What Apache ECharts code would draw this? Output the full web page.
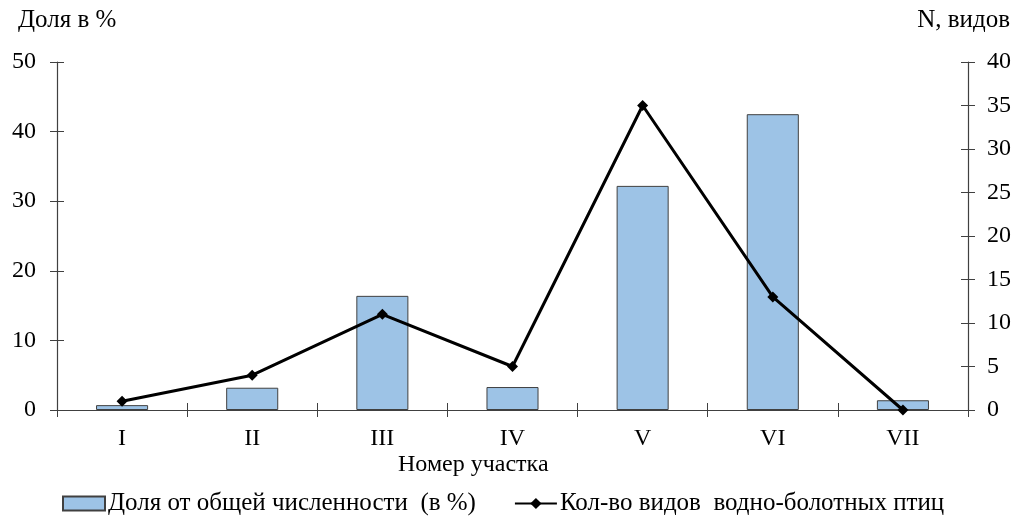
<!DOCTYPE html>
<html><head><meta charset="utf-8">
<script src="https://cdn.jsdelivr.net/npm/echarts@6/dist/echarts.min.js"></script>
<style>html,body{margin:0;padding:0;background:#fff}#c{width:1018px;height:518px}</style>
</head><body><div id="c"></div>
<script>
var categories = ['I','II','III','IV','V','VI','VII'];
var shareValues = [0.7, 3.2, 16.4, 3.3, 32.2, 42.5, 1.4];
var speciesValues = [1, 4, 11, 5, 35, 13, 0];
var leftTicks = [0, 10, 20, 30, 40, 50];
var rightTicks = [0, 5, 10, 15, 20, 25, 30, 35, 40];
var barName = 'Доля от общей численности  (в %)';
var lineName = 'Кол-во видов  водно-болотных птиц';

var F = 'Liberation Serif';
var axisCol = '#404040';
var chart = echarts.init(document.getElementById('c'));
chart.setOption({
  animation: false,
  textStyle: {fontFamily: F},
  grid: {left: 57, right: 50, top: 62, bottom: 108},
  legend: {
    left: 57, top: 486, itemGap: 38, itemWidth: 42, itemHeight: 14,
    textStyle: {fontFamily: F, fontSize: 25, color: '#000', padding: [0,0,0,-2]},
    data: [{name: barName, icon: 'rect'}, {name: lineName}]
  },
  graphic: [
    {type: 'text', left: 18, top: 8, style: {text: 'Доля в %', font: '25px "Liberation Serif"', fill: '#000'}},
    {type: 'text', right: 8, top: 8, style: {text: 'N, видов', font: '25px "Liberation Serif"', fill: '#000'}},
    {type: 'text', left: 398, top: 453, style: {text: 'Номер участка', font: '24px "Liberation Serif"', fill: '#000'}}
  ],
  xAxis: [
    {type: 'category', data: categories, position: 'bottom',
     axisLine: {lineStyle: {color: axisCol, width: 1.2}},
     axisTick: {show: true, length: 7, lineStyle: {color: axisCol}},
     axisLabel: {fontFamily: F, fontSize: 24, color: '#000', margin: 17}},
    {type: 'category', data: categories, position: 'bottom',
     axisLine: {show: false},
     axisTick: {show: true, inside: true, length: 7, lineStyle: {color: axisCol}},
     axisLabel: {show: false}}
  ],
  yAxis: [
    {type: 'value', min: 0, max: 50, interval: 10, position: 'left',
     splitLine: {show: false},
     axisLine: {show: true, lineStyle: {color: axisCol, width: 1.2}},
     axisTick: {show: true, length: 7, lineStyle: {color: axisCol}},
     axisLabel: {fontFamily: F, fontSize: 24, color: '#000', margin: 21}},
    {type: 'value', min: 0, max: 40, interval: 5, position: 'right',
     splitLine: {show: false},
     axisLine: {show: true, lineStyle: {color: axisCol, width: 1.2}},
     axisTick: {show: true, length: 7, lineStyle: {color: axisCol}},
     axisLabel: {fontFamily: F, fontSize: 24, color: '#000', margin: 19}},
    {type: 'value', min: 0, max: 50, interval: 10, position: 'left', offset: 0,
     splitLine: {show: false}, axisLine: {show: false},
     axisTick: {show: true, inside: true, length: 7, lineStyle: {color: axisCol}},
     axisLabel: {show: false}},
    {type: 'value', min: 0, max: 40, interval: 5, position: 'right', offset: 0,
     splitLine: {show: false}, axisLine: {show: false},
     axisTick: {show: true, inside: true, length: 7, lineStyle: {color: axisCol}},
     axisLabel: {show: false}}
  ],
  series: [
    {name: barName, type: 'bar', data: shareValues, yAxisIndex: 0, barWidth: '40%',
     itemStyle: {color: '#9DC3E6', borderColor: '#404040', borderWidth: 1}},
    {name: lineName, type: 'line', data: speciesValues, yAxisIndex: 1,
     symbol: 'diamond', symbolSize: 11,
     lineStyle: {color: '#000', width: 3}, itemStyle: {color: '#000'}}
  ]
});
</script></body></html>
